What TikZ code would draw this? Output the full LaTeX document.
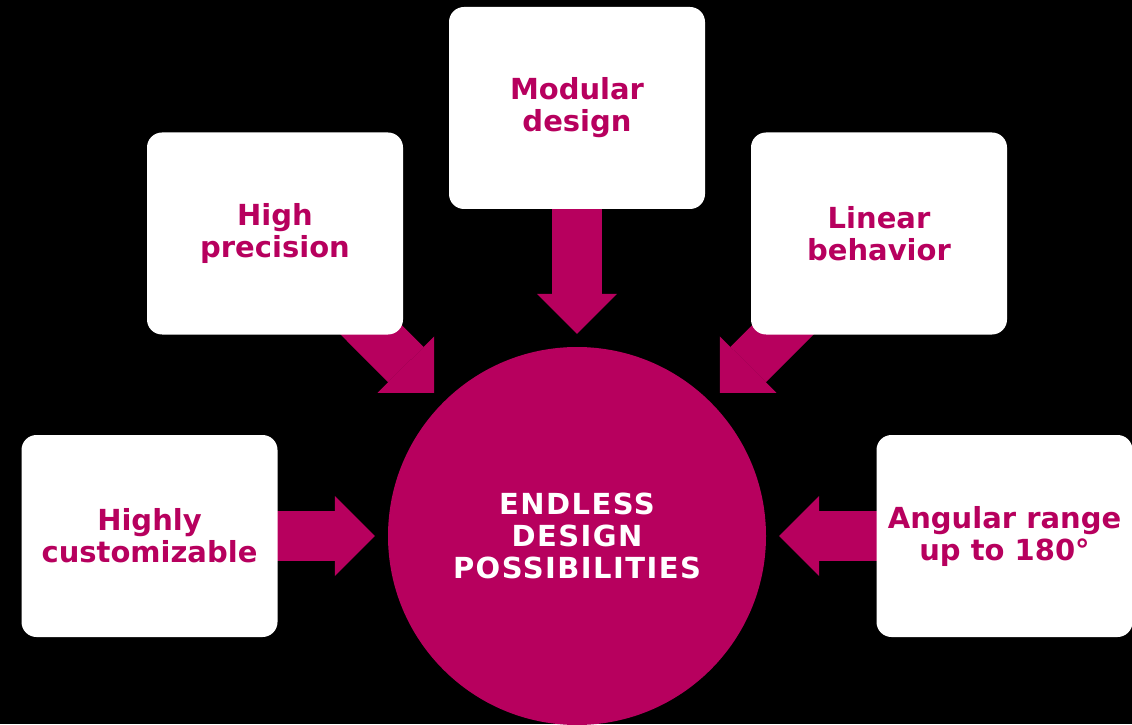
\documentclass[tikz,border=0pt]{standalone}
\usepackage{fontspec}
\setmainfont{DejaVu Sans}
\usetikzlibrary{arrows.meta}

\definecolor{berry}{RGB}{183,0,94}

\pgfdeclarelayer{bg}
\pgfdeclarelayer{links}
\pgfsetlayers{bg,links,main}

\begin{document}
\begin{tikzpicture}[x=1pt, y=1pt,
        feature/.style={fill=white, rounded corners=15pt, minimum width=256pt, minimum height=202pt,
                align=center, text=berry, font=\bfseries\fontsize{29}{32}\selectfont},
        hub/.style={circle, fill=berry, minimum size=378pt, inner sep=0pt, align=center, text=white,
                font=\bfseries\fontsize{29}{32}\selectfont\addfontfeatures{LetterSpace=5}},
        push/.style={berry, line width=50pt, shorten >=13pt,
                -{Triangle[width=80pt, length=40pt, line width=0pt]}}]

        \useasboundingbox (0,0) rectangle (1132,724);
        \begin{pgfonlayer}{bg}
                \fill[black] (0,0) rectangle (1132,724);
        \end{pgfonlayer}

        \node[hub] (core) at (577,188) {ENDLESS\\DESIGN\\POSSIBILITIES};

        \node[feature] (modular) at (577,616) {Modular\\design};
        \node[feature] (precision) at (275,490.5) {High\\precision};
        \node[feature] (linear) at (879,490.5) {Linear\\behavior};
        \node[feature] (custom) at (149.5,188) {Highly\\customizable};
        \node[feature] (angular) at (1004.5,188) {Angular range\\up to 180°};

        % block arrows sit behind the boxes
        \begin{pgfonlayer}{links}
                \foreach \src in {modular,precision,linear,custom,angular}
                        \draw[push] (\src.center) -- (core);
        \end{pgfonlayer}

\end{tikzpicture}
\end{document}
